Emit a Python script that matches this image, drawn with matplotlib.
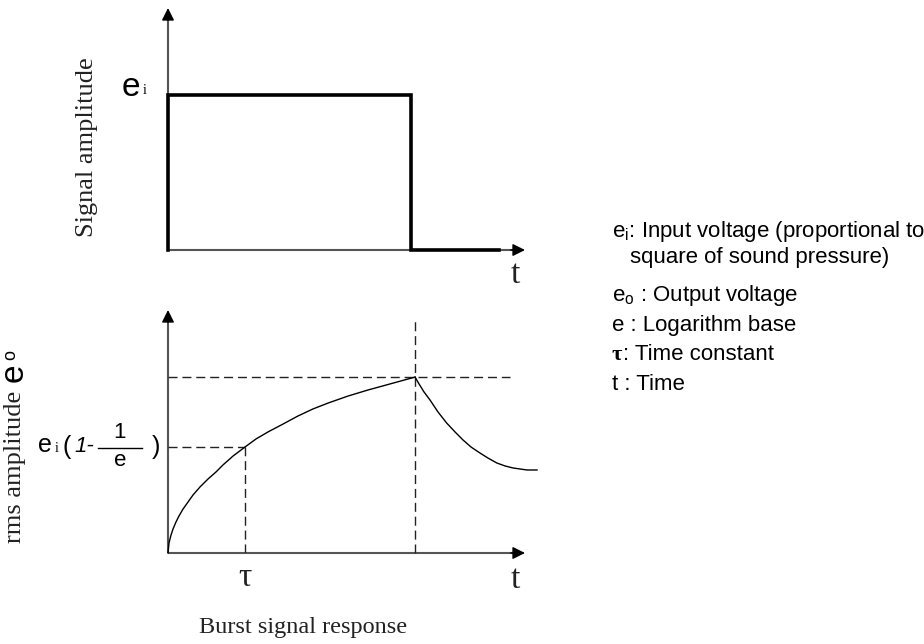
import matplotlib
matplotlib.use("Agg")
import matplotlib.pyplot as plt
from matplotlib.lines import Line2D

# ---------------- data (x in units of tau, y in units of e_i) ----------------
# burst input signal (top panel)
sig_t = [0.0, 0.0, 3.15, 3.15, 4.30]
sig_v = [0.0, 1.0, 1.0, 0.0, 0.0]

# rms response: rise during burst
rise_t = [0.0, 0.013, 0.039, 0.065, 0.104, 0.143, 0.195, 0.260, 0.325, 0.416,
          0.519, 0.623, 0.714, 0.844, 1.0, 1.143, 1.299, 1.494, 1.688, 1.883,
          2.078, 2.338, 2.597, 2.883, 3.208]
rise_v = [0.0, 0.060, 0.107, 0.143, 0.185, 0.221, 0.262, 0.304, 0.346, 0.394,
          0.441, 0.483, 0.525, 0.578, 0.632, 0.680, 0.722, 0.769, 0.817, 0.859,
          0.894, 0.936, 0.972, 1.008, 1.049]
# decay after burst
decay_t = [3.208, 3.260, 3.325, 3.403, 3.506, 3.619, 3.727, 3.831, 3.935,
           4.052, 4.156, 4.269, 4.377, 4.481, 4.571, 4.662, 4.792]
decay_v = [1.049, 1.008, 0.960, 0.912, 0.841, 0.775, 0.722, 0.674, 0.632,
           0.596, 0.566, 0.537, 0.519, 0.507, 0.501, 0.495, 0.495]

tau = 1.0
tau_level = 0.632

legend_lines = [
    (r"$\mathregular{e_{i}}$: Input voltage (proportional to", None),
    ("square of sound pressure)", None),
    (r"$\mathregular{e_{o}}$ : Output voltage", None),
    ("e : Logarithm base", None),
    ("τ", ": Time constant"),
    ("t : Time", None),
]

# ---------------- figure ----------------
W, H = 924, 644
fig = plt.figure(figsize=(W / 100, H / 100), dpi=100)
fig.patch.set_facecolor("white")


def fx(p):
    return p / W


def fy(p):
    return 1 - p / H


AX_COLOR = "#555555"
SERIF = "Liberation Serif"
SANS = "Liberation Sans"


def draw_axes_arrows(ax):
    ax.plot([0, 0], [0, 0.965], transform=ax.transAxes, color=AX_COLOR,
            lw=1.5, clip_on=False, solid_capstyle="butt")
    ax.plot([0, 0.975], [0, 0], transform=ax.transAxes, color=AX_COLOR,
            lw=1.5, clip_on=False, solid_capstyle="butt")
    style = "-|>,head_length=0.5,head_width=0.25"
    ax.annotate("", xy=(0, 1), xytext=(0, 0.95), xycoords="axes fraction",
                arrowprops=dict(arrowstyle=style, color="black", lw=1.0,
                                shrinkA=0, shrinkB=0, mutation_scale=15))
    ax.annotate("", xy=(1, 0), xytext=(0.96, 0), xycoords="axes fraction",
                arrowprops=dict(arrowstyle=style, color="black", lw=1.0,
                                shrinkA=0, shrinkB=0, mutation_scale=15))


# top panel
ax1 = fig.add_axes([fx(168), fy(250), (525 - 168) / W, (250 - 8) / H])
ax1.set_xlim(0, 4.636)
ax1.set_ylim(0, 1.561)
ax1.axis("off")
draw_axes_arrows(ax1)
ax1.plot(sig_t, sig_v, color="black", lw=2.6, clip_on=False,
         solid_joinstyle="miter")

# bottom panel
ax2 = fig.add_axes([fx(168), fy(553), (525 - 168) / W, (553 - 310) / H])
ax2.set_xlim(0, 4.636)
ax2.set_ylim(0, 1.449)
ax2.axis("off")
draw_axes_arrows(ax2)
dash = (0, (6.5, 3.5))
peak_t, peak_v = rise_t[-1], rise_v[-1]
ax2.plot([0, 4.44], [peak_v, peak_v], color="#222222", lw=1.0, ls=dash,
         clip_on=False)
ax2.plot([peak_t, peak_t], [0, 1.401], color="#222222", lw=1.0, ls=dash,
         clip_on=False)
ax2.plot([0, tau], [tau_level, tau_level], color="#222222", lw=1.0, ls=dash)
ax2.plot([tau, tau], [0, tau_level], color="#222222", lw=1.0, ls=dash)
ax2.plot(rise_t, rise_v, color="black", lw=1.0, clip_on=False)
ax2.plot(decay_t, decay_v, color="black", lw=1.0, clip_on=False)

# ---------------- labels ----------------
fig.text(fx(87), fy(147), "Signal amplitude", rotation=90, ha="center",
         va="center", family=SERIF, fontsize=19, color="#222222")
fig.text(fx(15), fy(467), "rms amplitude", rotation=90, ha="center",
         va="center", family=SERIF, fontsize=19, color="#222222")
fig.text(fx(15), fy(374), r"$\mathregular{e}$", rotation=90, ha="center",
         va="center", family=SANS, fontsize=24)
fig.text(fx(11), fy(355), r"$\mathregular{o}$", rotation=90, ha="center",
         va="center", family=SANS, fontsize=13)

# top e_i
fig.text(fx(131), fy(87), "e", ha="center", va="center", family=SANS,
         fontsize=24)
fig.text(fx(145), fy(91), "i", ha="center", va="center", family=SERIF,
         fontsize=10)

# e_i(1 - 1/e)
fig.text(fx(45), fy(445), "e", ha="center", va="center", family=SANS,
         fontsize=18)
fig.text(fx(57), fy(448), "i", ha="center", va="center", family=SERIF,
         fontsize=10)
fig.text(fx(67), fy(447), "(", ha="center", va="center", family=SANS,
         fontsize=18)
fig.text(fx(84), fy(447), "1-", ha="center", va="center", family=SANS,
         fontsize=16, style="italic")
fig.text(fx(120), fy(433), "1", ha="center", va="center", family=SANS,
         fontsize=16)
fig.text(fx(120), fy(461), "e", ha="center", va="center", family=SANS,
         fontsize=16)
fig.add_artist(Line2D([fx(98), fx(142)], [fy(448), fy(448)], color="black",
                      lw=1.0))
fig.text(fx(156), fy(447), ")", ha="center", va="center", family=SANS,
         fontsize=18)

# axis letters
fig.text(fx(515), fy(275), "t", ha="center", va="center", family=SERIF,
         fontsize=24, color="#222222")
fig.text(fx(515), fy(580), "t", ha="center", va="center", family=SERIF,
         fontsize=24, color="#222222")
fig.text(fx(245), fy(578), "τ", ha="center", va="center", family=SERIF,
         fontsize=24, color="#222222")

fig.text(fx(303), fy(627), "Burst signal response", ha="center",
         va="center", family=SERIF, fontsize=17.5, color="#222222")

# explanation list
ys = [232, 258, 296, 326, 355, 384]
xs = [612, 630, 612, 612, 612, 612]
for (txt, extra), y, x in zip(legend_lines, ys, xs):
    if extra is None:
        fig.text(fx(x), fy(y), txt, ha="left", va="center", family=SANS,
                 fontsize=16)
    else:
        fig.text(fx(x), fy(y), txt, ha="left", va="center", family=SERIF,
                 fontsize=16, weight="bold")
        fig.text(fx(x + 11), fy(y), extra, ha="left", va="center",
                 family=SANS, fontsize=16)

fig.savefig("out.png", dpi=100, facecolor="white")
